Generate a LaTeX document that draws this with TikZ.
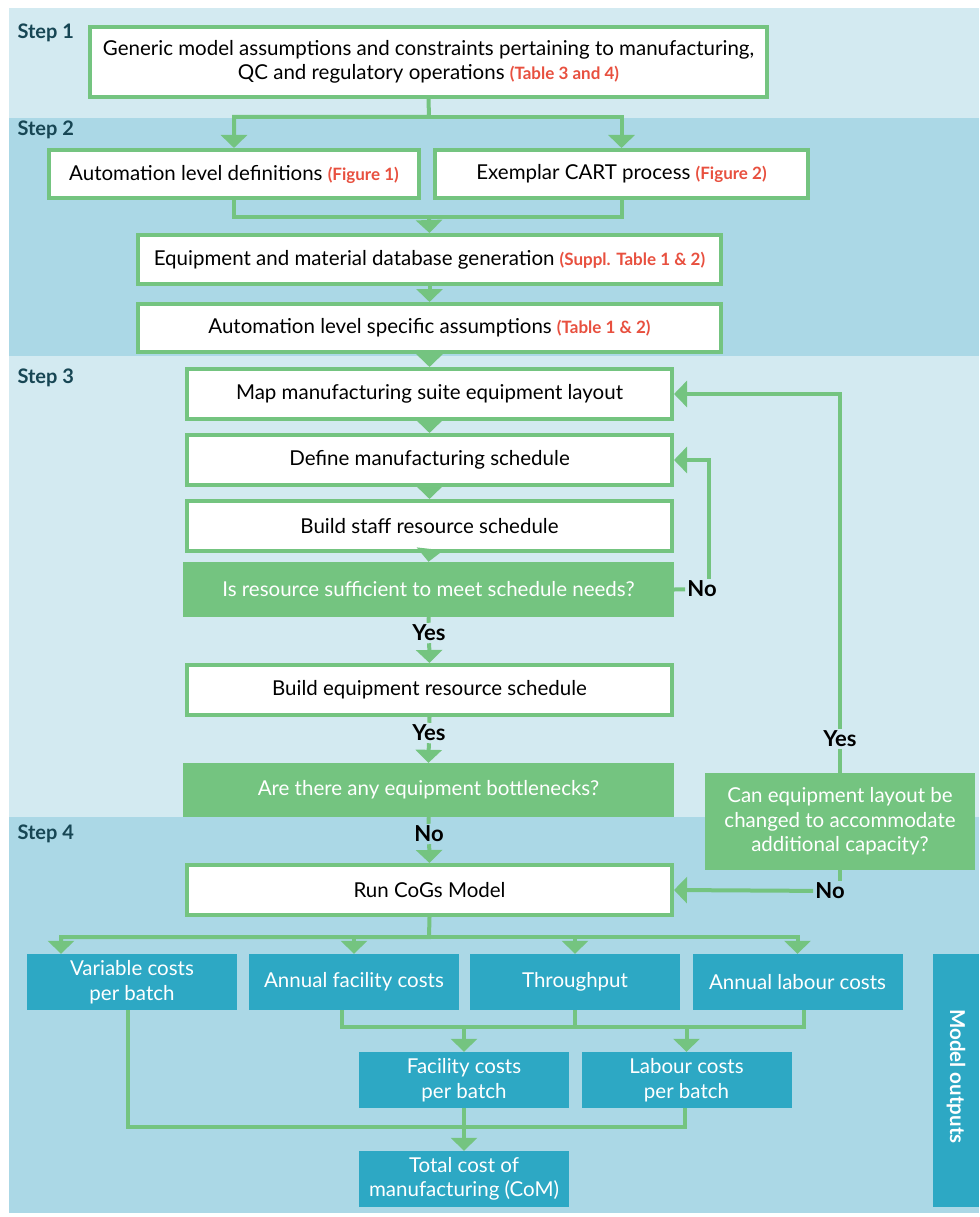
\documentclass[tikz,border=0pt]{standalone}
\usepackage{fontspec}
\setmainfont{Lato}
\usetikzlibrary{arrows.meta}

\definecolor{flowgreen}{HTML}{74C480}
\definecolor{bandlight}{HTML}{D3EAF1}
\definecolor{banddark}{HTML}{ABD8E6}
\definecolor{outteal}{HTML}{2DA8C4}
\definecolor{refred}{HTML}{E8503F}
\definecolor{steptext}{HTML}{174654}
\newcommand\refnote[1]{{\color{refred}\fontsize{17}{20}\selectfont\bfseries #1}}

\begin{document}
\begin{tikzpicture}[x=1pt, y=1pt, >={Triangle[width=26pt,length=13pt]},
                    font=\fontsize{20.5}{24.5}\selectfont]
  \tikzstyle{box}=[draw=flowgreen, line width=4pt, fill=white, align=center,
                   inner sep=0pt, minimum width=485pt, minimum height=50pt]
  \tikzstyle{dec}=[fill=flowgreen, text=white, align=center, inner sep=0pt]
  \tikzstyle{outp}=[fill=outteal, text=white, align=center, inner sep=0pt,
                    minimum width=210pt, minimum height=56pt]
  \tikzstyle{lnk}=[draw=flowgreen, line width=4pt]
  \tikzstyle{ans}=[font=\fontsize{22}{24}\selectfont\bfseries, inner sep=2pt]
  \tikzstyle{steplbl}=[anchor=west, text=steptext,
                       font=\fontsize{20}{22}\selectfont\bfseries]

  \useasboundingbox (0,0) rectangle (979,-1217);

  % ================= bands =================
  \fill[white] (0,0) rectangle (979,-1217);
  \fill[bandlight] (9,-8)    rectangle (979,-118);
  \fill[banddark]  (9,-118)  rectangle (979,-356);
  \fill[bandlight] (9,-356)  rectangle (979,-817);
  \fill[banddark]  (9,-817)  rectangle (979,-1213);

  \node[steplbl] (st1) at (14,-33)  {Step 1};
  \node[steplbl] (st2) at (14,-130) {Step 2};
  \node[steplbl] (st3) at (14,-378) {Step 3};
  \node[steplbl] (st4) at (14,-834) {Step 4};

  % ================= Step 1 and 2 =================
  \node[box, minimum width=677pt, minimum height=70pt] (generic) at (428.5,-62)
    {Generic model assumptions and constraints pertaining to manufacturing,\\
     QC and regulatory operations \refnote{(Table 3 and 4)}};
  \node[box, minimum width=370pt, minimum height=48pt] (autodef) at (234,-174)
    {Automation level definitions \refnote{(Figure 1)}};
  \node[box, minimum width=373pt, minimum height=48pt] (cart) at (621.5,-174)
    {Exemplar CART process \refnote{(Figure 2)}};
  \node[box, minimum width=583pt, minimum height=49pt] (equip) at (429.5,-259.5)
    {Equipment and material database generation \refnote{(Suppl. Table 1 \& 2)}};
  \node[box, minimum width=583pt, minimum height=48pt] (autospec) at (429.5,-328)
    {Automation level specific assumptions \refnote{(Table 1 \& 2)}};

  \coordinate (split1) at (429,-117);
  \coordinate (join1)  at (429,-217);
  \draw[lnk, ->] (generic.south) -- (split1) -| (autodef.north);
  \draw[lnk, ->] (split1) -| (cart.north);
  \draw[lnk] (autodef.south) |- (join1) -| (cart.south);
  \draw[lnk, ->] (join1) -- (equip.north);
  \draw[lnk, ->] (equip.south) -- (autospec.north);

  % ================= Step 3 =================
  \node[box] (layout) at (429.5,-394) {Map manufacturing suite equipment layout};
  \node[box] (sched)  at (429.5,-460) {Define manufacturing schedule};
  \node[box] (staff)  at (429.5,-526) {Build staff resource schedule};
  \node[dec, minimum width=491pt, minimum height=55pt] (suff) at (428.5,-589.5)
    {Is resource sufficient to meet schedule needs?};
  \node[box] (eqsched) at (429.5,-690) {Build equipment resource schedule};
  \node[dec, minimum width=491pt, minimum height=54pt] (bottle) at (428.5,-790)
    {Are there any equipment bottlenecks?};
  \node[dec, minimum width=270pt, minimum height=97pt] (change) at (840,-821.5)
    {Can equipment layout be\\changed to accommodate\\additional capacity?};

  \node[ans] (yes1) at (429,-633) {Yes};
  \node[ans] (yes2) at (429,-733) {Yes};
  \node[ans] (no1)  at (702,-589) {No};
  \node[ans] (yes3) at (840,-739) {Yes};

  \draw[lnk, ->] (autospec.south) -- (layout.north);
  \draw[lnk, ->] (layout.south) -- (sched.north);
  \draw[lnk, ->] (sched.south) -- (staff.north);
  \draw[lnk, ->] (staff.south) -- (suff.north);
  \draw[lnk] (suff.south) -- (yes1);
  \draw[lnk, ->] (yes1) -- (eqsched.north);
  \draw[lnk] (eqsched.south) -- (yes2);
  \draw[lnk, ->] (yes2) -- (bottle.north);
  \draw[lnk] (suff.east) -- (no1);
  \draw[lnk, ->] ([xshift=7pt]no1.north) |- (sched.east);
  \draw[lnk] (change.north) -- (yes3);
  \draw[lnk, ->] (yes3) |- (layout.east);

  % ================= Step 4 =================
  \node[box] (cogs) at (429.5,-890) {Run CoGs Model};
  \node[ans] (no2) at (429,-834) {No};
  \node[ans] (no3) at (830,-891) {No};

  \draw[lnk] (bottle.south) -- (no2);
  \draw[lnk, ->] (no2) -- (cogs.north);
  \draw[lnk] (change.south) -- (change.south |- no3.north);
  \draw[lnk, ->] (no3) -- (cogs.east);

  \node[outp] (varcost) at (132,-982)   {Variable costs\\per batch};
  \node[outp] (faccost) at (354,-982)   {Annual facility costs};
  \node[outp] (thruput) at (575,-982)   {Throughput};
  \node[outp] (labcost) at (797.5,-982) {Annual labour costs};
  \node[outp] (facbatch) at (464,-1080)  {Facility costs\\per batch};
  \node[outp] (labbatch) at (686.5,-1080) {Labour costs\\per batch};
  \node[outp] (total) at (464,-1179) {Total cost of\\manufacturing (CoM)};
  \node[outp, minimum width=46pt, minimum height=253pt] (outputs) at (956,-1080.5) {};
  \node[rotate=-90, text=white, font=\fontsize{20.5}{22}\selectfont\bfseries]
    (outlbl) at ([yshift=4pt]outputs.center) {Model outputs};

  \coordinate (split3) at (429,-937);
  \draw[lnk, ->] (cogs.south) -- (split3) -| ([xshift=-71pt]varcost.north);
  \draw[lnk, ->] (split3) -| (faccost.north);
  \draw[lnk, ->] (split3) -| (thruput.north);
  \draw[lnk, ->] (split3) -| (labcost.north);

  \coordinate (join3) at (575,-1027);
  \draw[lnk] ([xshift=-12pt]faccost.south) |- (join3) -| ([xshift=6pt]labcost.south);
  \draw[lnk] (thruput.south) -- (join3);
  \draw[lnk, ->] (facbatch.north |- join3) -- (facbatch.north);
  \draw[lnk, ->] (labbatch.north |- join3) -- (labbatch.north);

  \coordinate (join4) at (464,-1127);
  \draw[lnk] ([xshift=-4pt]varcost.south) |- (join4) -| ([xshift=-2pt]labbatch.south);
  \draw[lnk] (facbatch.south) -- (join4);
  \draw[lnk, ->] (join4) -- (total.north);
\end{tikzpicture}
\end{document}
